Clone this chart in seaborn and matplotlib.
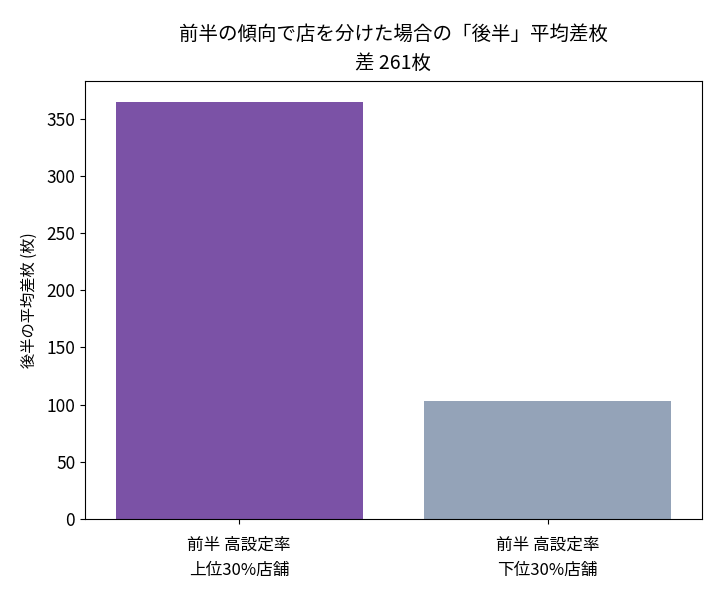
import matplotlib
matplotlib.use("Agg")
import matplotlib.pyplot as plt
import seaborn as sns
import pandas as pd

categories = ["前半 高設定率\n上位30%店舗", "前半 高設定率\n下位30%店舗"]
values = [364.8, 103.4]
colors = ["#7B52A6", "#94A3B8"]

plt.rcParams["font.family"] = ["Noto Sans CJK JP", "DejaVu Sans"]

df = pd.DataFrame({"group": categories, "value": values})

fig, ax = plt.subplots(figsize=(7.2, 6), dpi=100)
sns.barplot(data=df, x="group", y="value", hue="group", palette=colors,
            legend=False, saturation=1, ax=ax)

diff = values[0] - values[1]
ax.set_title(f"前半の傾向で店を分けた場合の「後半」平均差枚\n差 {diff:.0f}枚",
             fontsize=14, linespacing=1.45, pad=9)
ax.set_xlabel("")
ax.set_ylabel("後半の平均差枚 (枚)", fontsize=11, labelpad=6)
ax.set_ylim(0, 383)
ax.tick_params(axis="y", labelsize=12.5)
ax.tick_params(axis="x", pad=9)
for lbl in ax.get_xticklabels():
    lbl.set_fontsize(12)
    lbl.set_linespacing(1.65)

plt.subplots_adjust(left=0.118, right=0.975, top=0.865, bottom=0.135)
fig.savefig("out.png", dpi=100)
